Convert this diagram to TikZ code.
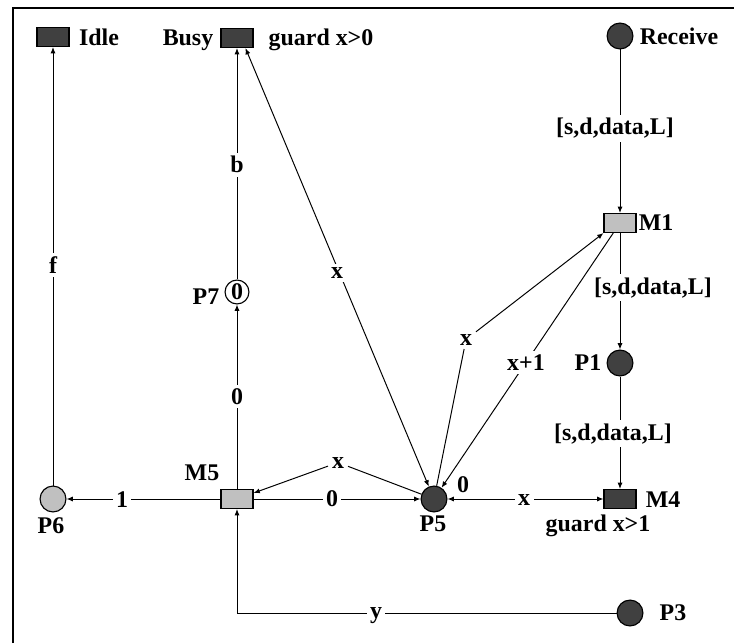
\documentclass[tikz,border=0pt]{standalone}
\usepackage{fontspec}
\setmainfont{Liberation Serif}
\usetikzlibrary{arrows.meta}
\definecolor{darkfill}{HTML}{404040}
\definecolor{lightfill}{HTML}{C0C0C0}
\begin{document}
\begin{tikzpicture}[x=0.025cm,y=-0.025cm,
  >={Latex[length=4.5pt,width=3.6pt]},
  every node/.style={font=\fontsize{17}{19}\selectfont\bfseries},
  trans/.style={draw,line width=0.8pt,minimum width=22.7pt,minimum height=13.5pt,inner sep=0pt},
  place/.style={circle,draw,line width=0.8pt,minimum size=18.4pt,inner sep=0pt},
  txt/.style={anchor=base,inner sep=0pt},
  lbl/.style={anchor=base,fill=white,inner sep=2.5pt},
  every path/.style={line width=0.7pt}]
\useasboundingbox (0,0) rectangle (734,643);
\draw[line width=2.1pt] (13,643) -- (13,8) -- (734,8);

\node[trans,fill=darkfill] (Idle) at (53,37) {};
\node[trans,fill=darkfill] (Busy) at (237,38) {};
\node[place,fill=darkfill] (Receive) at (620,36) {};
\node[trans,fill=lightfill] (M1) at (620,223) {};
\node[place,fill=darkfill] (P1) at (620,363) {};
\node[trans,fill=darkfill] (M4) at (620,499) {};
\node[place,fill=darkfill] (P5) at (434,499) {};
\node[place,fill=darkfill] (P3) at (630,613) {};
\node[trans,fill=lightfill] (M5) at (237,499) {};
\node[place,fill=lightfill] (P6) at (53,499) {};
\node[place,fill=white,minimum size=17pt] (P7) at (237,292) {0};

\node[txt] (IdleTxt) at (99,46) {Idle};
\node[txt] (BusyTxt) at (188,46) {Busy};
\node[txt] (GuardBusy) at (321,46) {guard x>0};
\node[txt] (ReceiveTxt) at (679,45) {Receive};
\node[txt] (M1Txt) at (656,230) {M1};
\node[txt] (P1Txt) at (588,370) {P1};
\node[txt] (M4Txt) at (663,507) {M4};
\node[txt] (GuardM4) at (598,531) {guard x>1};
\node[txt] (P5Txt) at (433,531) {P5};
\node[txt] (P5Init) at (463,492) {0};
\node[txt] (P3Txt) at (673,620) {P3};
\node[txt] (M5Txt) at (202,480) {M5};
\node[txt] (P6Txt) at (51,533) {P6};
\node[txt] (P7Txt) at (206,304) {P7};

\draw[->] (Receive) -- (M1);
\draw[->] (M1) -- (P1);
\draw[->] (P1) -- (M4);
\draw[<->] (P5) -- (M4);
\draw[->] (P3) -| (M5);
\draw[->] (M5) -- (P5);
\draw[->] (M5) -- (P6);
\draw[->] (P6) -- (Idle);
\draw[->] (M5) -- (P7);
\draw[->] (P7) -- (Busy);
\draw[<->] (Busy.-50) -- (P5);
\draw[->] (M1) -- (P5);

\node[lbl] (RecArc) at (615,135) {[s,d,data,L]};
\node[lbl] (M1Arc) at (653,294) {[s,d,data,L]};
\node[lbl] (P1Arc) at (613,440) {[s,d,data,L]};
\node[lbl] (M4Arc) at (524,505) {x};
\node[lbl] (P3Arc) at (376,618) {y};
\node[lbl] (M5P5Arc) at (332,506) {0};
\node[lbl] (P6Arc) at (122,507) {1};
\node[lbl] (IdleArc) at (53,273) {f};
\node[lbl] (P7Arc) at (237,404) {0};
\node[lbl] (BusyArc) at (237,173) {b};
\node[lbl] (BusyP5Arc) at (337,278) {x};
\node[lbl] (M1P5Arc) at (526,370) {x+1};
\node[lbl] (P5M5Arc) at (338,468) {x};
\node[lbl] (P5M1Arc) at (466,345) {x};

\draw[->] (P5) -- (P5M5Arc) -- (M5);
\draw[->] (P5) -- (P5M1Arc) -- (M1.south west);
\end{tikzpicture}
\end{document}
